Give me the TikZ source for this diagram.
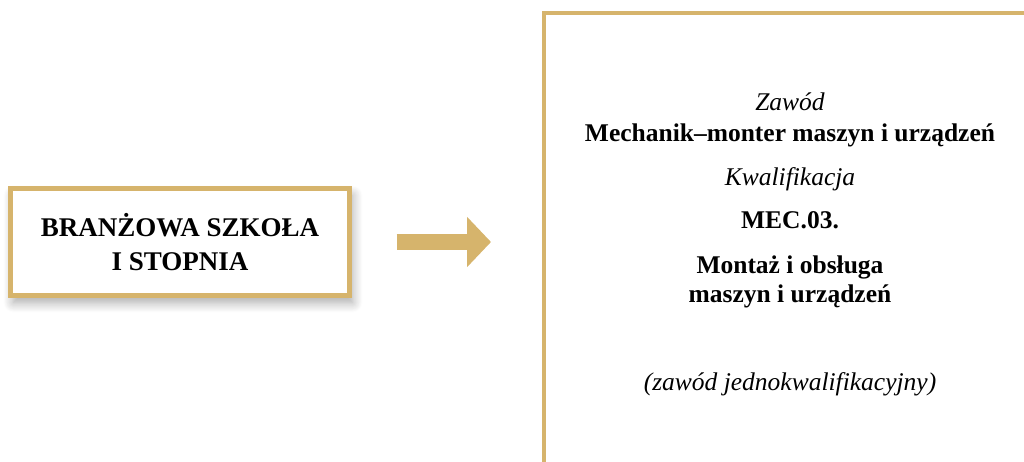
\documentclass[tikz,border=0pt]{standalone}
\usepackage{fontspec}
\setmainfont{Liberation Serif}
\usetikzlibrary{arrows.meta}
\usetikzlibrary{shadows.blur}
\definecolor{zloto}{HTML}{D6B46C}
\tikzset{
  ramka/.style={draw=zloto, line width=4.5pt, fill=white, outer sep=0pt},
  tytul/.style={font=\bfseries\fontsize{25.5}{29}\selectfont, align=center},
  opis/.style={font=\itshape\fontsize{25.5}{29}\selectfont},
  strzalka/.style={draw=zloto, line width=16pt, -{Triangle[length=24pt,width=49pt]}}
}

\begin{document}
\begin{tikzpicture}[x=1pt,y=-1pt]

            \useasboundingbox (0,0) rectangle (1024,462);
            \clip (0,0) rectangle (1024,462);

            \node[ramka, minimum width=339pt, minimum height=107pt,
                  blur shadow={shadow xshift=3pt, shadow yshift=-7pt, shadow blur radius=10pt, shadow blur steps=12, shadow opacity=35},
                  font=\bfseries\fontsize{27}{34}\selectfont, align=center]
                  (szkola) at (180, 242) {BRANŻOWA SZKOŁA\\I STOPNIA};

            \node[ramka, anchor=north west, minimum width=560pt, minimum height=520pt] (karta) at (544, 13) {};

            \draw[strzalka, shorten <=47pt, shorten >=53pt] (szkola.east) -- (szkola.east -| karta.west);

            \node[opis, anchor=base] (zawod) at (790, 111) {Zawód};
            \node[tytul, anchor=base] (nazwa) at (790, 142) {Mechanik–monter maszyn i urządzeń};
            \node[opis, anchor=base] (kwal) at (790, 186) {Kwalifikacja};
            \node[tytul, anchor=base] (kod) at (790, 229) {MEC.03.};
            \node[tytul, anchor=base] (opiskwal) at (790, 302) {Montaż i obsługa\\maszyn i urządzeń};
            \node[opis, anchor=base] (uwaga) at (790, 390) {(zawód jednokwalifikacyjny)};
        \end{tikzpicture}
\end{document}
